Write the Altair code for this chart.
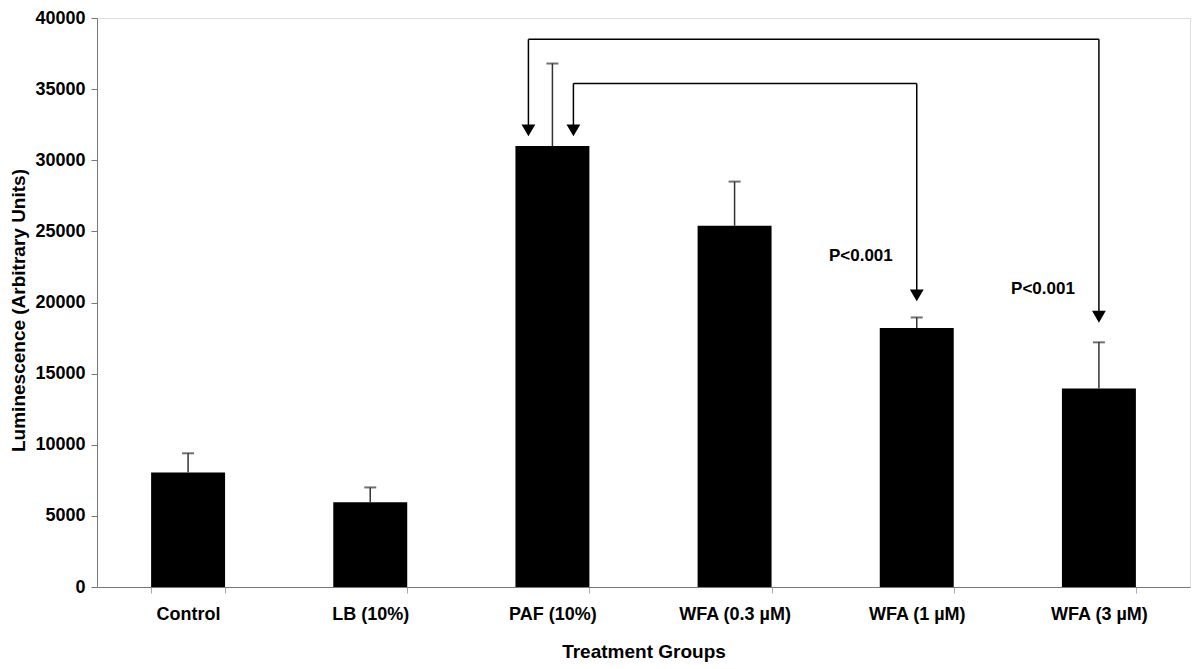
import altair as alt
import pandas as pd

groups = ["Control", "LB (10%)", "PAF (10%)", "WFA (0.3 µM)", "WFA (1 µM)", "WFA (3 µM)"]
means = [8050, 5950, 31000, 25400, 18200, 13950]
upper = [9400, 7000, 36800, 28500, 18950, 17200]

# bracket annotations
br_from = ["PAF (10%)", "PAF (10%)"]
br_to = ["WFA (3 µM)", "WFA (1 µM)"]
br_level = [38500, 35400]
br_left_tip = [32100, 32100]
br_right_tip = [19000, 20500]
p_labels = ["P<0.001", "P<0.001"]
p_values = [20950, 23300]

FONT = "Liberation Sans"

df = pd.DataFrame({"g": groups, "m": means, "u": upper})
br = pd.DataFrame({"a": br_from, "b": br_to, "lvl": br_level, "lt": br_left_tip,
                   "rt": br_right_tip, "lab": p_labels, "pv": p_values})

xscale = alt.Scale(domain=groups, paddingInner=0.594, paddingOuter=0.297)
yscale = alt.Scale(domain=[0, 40000], nice=False)

X = alt.X("g:N", scale=xscale, sort=groups,
          axis=alt.Axis(title="Treatment Groups", labelAngle=0, tickBand="extent",
                        labelFont=FONT, labelFontSize=18, labelFontWeight="bold", labelColor="black",
                        titleFont=FONT, titleFontSize=19, titleFontWeight="bold", titleColor="black",
                        domainColor="#777", tickColor="#aaa", tickSize=6, labelPadding=12, titlePadding=19))
Y = alt.Y("m:Q", scale=yscale,
          axis=alt.Axis(title="Luminescence (Arbitrary Units)", values=list(range(0, 40001, 5000)),
                        format="d", grid=False, labelFont=FONT, labelFontSize=18, labelFontWeight="bold",
                        labelColor="black", titleFont=FONT, titleFontSize=19, titleFontWeight="bold",
                        titleColor="black", domainColor="#777", tickColor="#777", tickSize=6,
                        labelPadding=6, titlePadding=6, titleY=292))

base = alt.Chart(df)
bars = base.mark_bar(color="black").encode(x=X, y=Y)
stem = base.mark_rule(color="#333", strokeWidth=1.5).encode(
    x=alt.X("g:N", scale=xscale, sort=groups), y=alt.Y("m:Q", scale=yscale), y2="u:Q")
cap = base.mark_tick(color="#333", thickness=2, size=12, orient="horizontal").encode(
    x=alt.X("g:N", scale=xscale, sort=groups), y=alt.Y("u:Q", scale=yscale))

bb = alt.Chart(br)
lw = 1.5
outer = alt.datum.b == "WFA (3 µM)"
inner = alt.datum.b == "WFA (1 µM)"
horiz_outer = bb.transform_filter(outer).mark_rule(
    color="black", strokeWidth=lw, xOffset=-24).encode(
    x=alt.X("a:N", scale=xscale), x2="b:N", y=alt.Y("lvl:Q", scale=yscale))
horiz_inner = bb.transform_filter(inner).mark_rule(
    color="black", strokeWidth=lw, xOffset=21).encode(
    x=alt.X("a:N", scale=xscale), x2="b:N", y=alt.Y("lvl:Q", scale=yscale))
vl_outer = bb.transform_filter(outer).mark_rule(
    color="black", strokeWidth=lw, xOffset=-24).encode(
    x=alt.X("a:N", scale=xscale), y=alt.Y("lvl:Q", scale=yscale), y2="lt:Q")
vl_inner = bb.transform_filter(inner).mark_rule(
    color="black", strokeWidth=lw, xOffset=21).encode(
    x=alt.X("a:N", scale=xscale), y=alt.Y("lvl:Q", scale=yscale), y2="lt:Q")
vr = bb.mark_rule(color="black", strokeWidth=lw).encode(
    x=alt.X("b:N", scale=xscale), y=alt.Y("lvl:Q", scale=yscale), y2="rt:Q")
tri_l_outer = bb.transform_filter(outer).mark_point(
    shape="triangle-down", filled=True, color="black", opacity=1, size=190, xOffset=-24).encode(
    x=alt.X("a:N", scale=xscale), y=alt.Y("lt:Q", scale=yscale))
tri_l_inner = bb.transform_filter(inner).mark_point(
    shape="triangle-down", filled=True, color="black", opacity=1, size=190, xOffset=21).encode(
    x=alt.X("a:N", scale=xscale), y=alt.Y("lt:Q", scale=yscale))
tri_r = bb.mark_point(shape="triangle-down", filled=True, color="black", opacity=1, size=190).encode(
    x=alt.X("b:N", scale=xscale), y=alt.Y("rt:Q", scale=yscale))
ptext = bb.mark_text(font=FONT, fontSize=17, fontWeight="bold", align="right", dx=-24,
                     baseline="middle", color="black").encode(
    x=alt.X("b:N", scale=xscale), y=alt.Y("pv:Q", scale=yscale), text="lab:N")

chart = alt.layer(bars, stem, cap, horiz_outer, horiz_inner, vl_outer, vl_inner, vr,
                  tri_l_outer, tri_l_inner, tri_r, ptext).properties(
    width=1093, height=569,
    autosize=alt.AutoSizeParams(type="none"),
    padding={"left": 89, "top": 10, "right": 2, "bottom": 78},
).configure_view(stroke="#444", strokeWidth=1.2).configure(background="white")

chart.save("out.html", embed_options={"renderer": "svg", "actions": False})
